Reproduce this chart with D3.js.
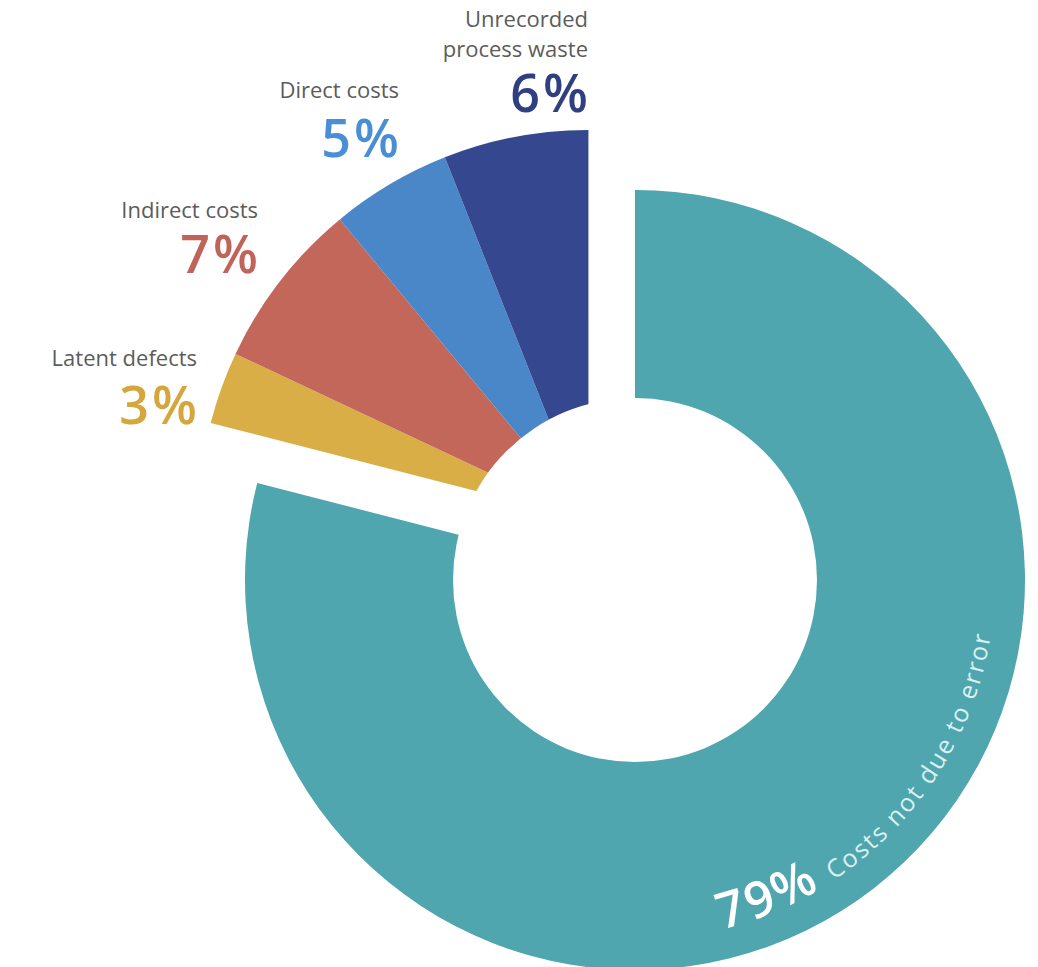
<!DOCTYPE html>
<html>
<head>
<meta charset="utf-8">
<script src="https://cdn.jsdelivr.net/npm/d3@7"></script>
<style>
  body { margin: 0; background: #fff; }
  svg { display: block; font-family: "Open Sans", sans-serif; }
</style>
</head>
<body>
<div id="viz"></div>
<script>
// Data
const categories = ["Costs not due to error", "Latent defects", "Indirect costs", "Direct costs", "Unrecorded process waste"];
const values = [79, 3, 7, 5, 6];
const pctLabels = ["79%", "3%", "7%", "5%", "6%"];
const nameLines = [["Costs not due to error"], ["Latent defects"], ["Indirect costs"], ["Direct costs"], ["Unrecorded", "process waste"]];

// Styles
const fills = ["#4fa6ae", "#d9ae46", "#c2675a", "#4a87c9", "#35478f"];
const pctColors = ["#ffffff", "#d4a63c", "#c0645a", "#4a8fd5", "#2f3f80"];

// Layout
const width = 1038, height = 967;
const cx = 635, cy = 580;
const outerR = 390, innerR = 182, explode = 76;
// right-aligned anchor (x, baseline of percent) for the small-slice labels
const labelPos = [null, [197, 424], [258, 273], [399, 157], [588, 112]];
const nameGap = [0, 58, 55, 59, 55];

const svg = d3.select("#viz").append("svg")
    .attr("width", width)
    .attr("height", height);

const pie = d3.pie().sort(null).value(d => d);
const arcs = pie(values);

const arc = d3.arc()
    .innerRadius(0)
    .outerRadius(outerR);

// mid-angle of the small group, used to pull those slices away from the big one
const smallStart = arcs[1].startAngle, smallEnd = arcs[arcs.length - 1].endAngle;
const smallMid = (smallStart + smallEnd) / 2;
const sx = cx + explode * Math.sin(smallMid);
const sy = cy - explode * Math.cos(smallMid);

const g = svg.append("g");

g.selectAll("path.slice")
    .data(arcs)
    .enter()
    .append("path")
    .attr("class", "slice")
    .attr("transform", (d, i) => i === 0 ? `translate(${cx},${cy})` : `translate(${sx},${sy})`)
    .attr("d", arc)
    .attr("fill", (d, i) => fills[i]);

// donut hole
g.append("circle")
    .attr("cx", cx)
    .attr("cy", cy)
    .attr("r", innerR)
    .attr("fill", "#fff");

// labels for the small slices
arcs.forEach((d, i) => {
    if (i === 0) return;
    const [x, y] = labelPos[i];
    const lines = nameLines[i];
    const t = svg.append("text")
        .attr("text-anchor", "end")
        .style("font-size", "22px")
        .attr("fill", "#5c5c5c");
    lines.forEach((line, j) => {
        t.append("tspan")
            .attr("x", x)
            .attr("y", y - nameGap[i] - (lines.length - 1 - j) * 30)
            .text(line);
    });
    svg.append("text")
        .attr("x", x + 3)
        .attr("y", y)
        .attr("text-anchor", "end")
        .style("font-size", "52px")
        .style("font-weight", 600)
        .style("letter-spacing", "3px")
        .attr("fill", pctColors[i])
        .text(pctLabels[i]);
});

// curved label inside the big slice
const textR = 360;
const a0 = (166 - 90) * Math.PI / 180, a1 = (92 - 90) * Math.PI / 180;
const p = d3.path();
p.moveTo(cx + textR * Math.cos(a0), cy + textR * Math.sin(a0));
p.arc(cx, cy, textR, a0, a1, true);

svg.append("defs").append("path")
    .attr("id", "bigArcPath")
    .attr("d", p.toString());

const tp = svg.append("text")
    .append("textPath")
    .attr("href", "#bigArcPath");
tp.append("tspan")
    .style("font-size", "50px")
    .style("font-weight", 600)
    .style("letter-spacing", "3px")
    .attr("fill", pctColors[0])
    .text(pctLabels[0]);
tp.append("tspan")
    .style("font-size", "25px")
    .attr("fill", "#d9f1f0")
    .attr("dx", 13)
    .style("letter-spacing", "2px")
    .text(nameLines[0][0]);
</script>
</body>
</html>
